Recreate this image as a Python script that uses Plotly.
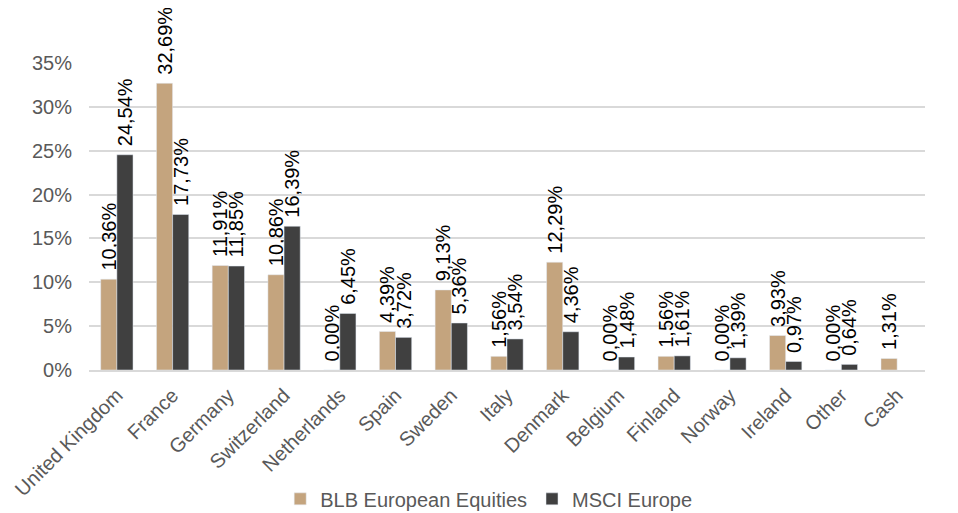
import plotly.graph_objects as go

categories = ["United Kingdom", "France", "Germany", "Switzerland", "Netherlands", "Spain",
              "Sweden", "Italy", "Denmark", "Belgium", "Finland", "Norway", "Ireland", "Other", "Cash"]
blb = [10.36, 32.69, 11.91, 10.86, 0.00, 4.39, 9.13, 1.56, 12.29, 0.00, 1.56, 0.00, 3.93, 0.00, 1.31]
msci = [24.54, 17.73, 11.85, 16.39, 6.45, 3.72, 5.36, 3.54, 4.36, 1.48, 1.61, 1.39, 0.97, 0.64, None]
y_ticks = [0, 5, 10, 15, 20, 25, 30, 35]


def fmt(v):
    # leading no-break space gives the label a little extra gap above the bar
    return "" if v is None else "\u00a0" + f"{v:.2f}".replace(".", ",") + "%"


FONT = "Liberation Sans, Arial, sans-serif"

fig = go.Figure()
fig.add_trace(go.Bar(
    name="BLB European Equities", x=categories, y=blb,
    marker=dict(color="#C4A47E"),
    text=[fmt(v) for v in blb], textposition="outside", textangle=-90,
    textfont=dict(family=FONT, size=20, color="#000000"),
    constraintext="none", cliponaxis=False,
))
fig.add_trace(go.Bar(
    name="MSCI Europe", x=categories, y=msci,
    marker=dict(color="#404040"),
    text=[fmt(v) for v in msci], textposition="outside", textangle=-90,
    textfont=dict(family=FONT, size=20, color="#000000"),
    constraintext="none", cliponaxis=False,
))

# The page body adds an 8px offset, so the figure is sized/placed to compensate.
fig.update_layout(
    width=950, height=505,
    margin=dict(l=81, r=33, t=55, b=143),
    paper_bgcolor="white", plot_bgcolor="white",
    barmode="group", bargap=0.42, bargroupgap=0,
    font=dict(family=FONT, size=20, color="#595959"),
    showlegend=True,
    legend=dict(orientation="h", xref="container", yref="container",
                x=0.506, xanchor="center", y=0.028, yanchor="middle",
                font=dict(size=20, color="#595959"), itemwidth=30, traceorder="normal"),
    xaxis=dict(tickangle=-45, showgrid=False, showline=True, linecolor="#D9D9D9", linewidth=1.5,
               ticks="", automargin=False, ticklabelstandoff=4,
               tickfont=dict(size=20, color="#595959")),
    yaxis=dict(range=[0, 35], tickvals=y_ticks, ticktext=[f"{t}%" for t in y_ticks],
               showgrid=True, gridcolor="#D9D9D9", gridwidth=1.5, zeroline=False,
               showline=False, ticks="", automargin=False, ticklabelstandoff=16,
               tickfont=dict(size=20, color="#595959")),
)

fig.write_html("out.html")
